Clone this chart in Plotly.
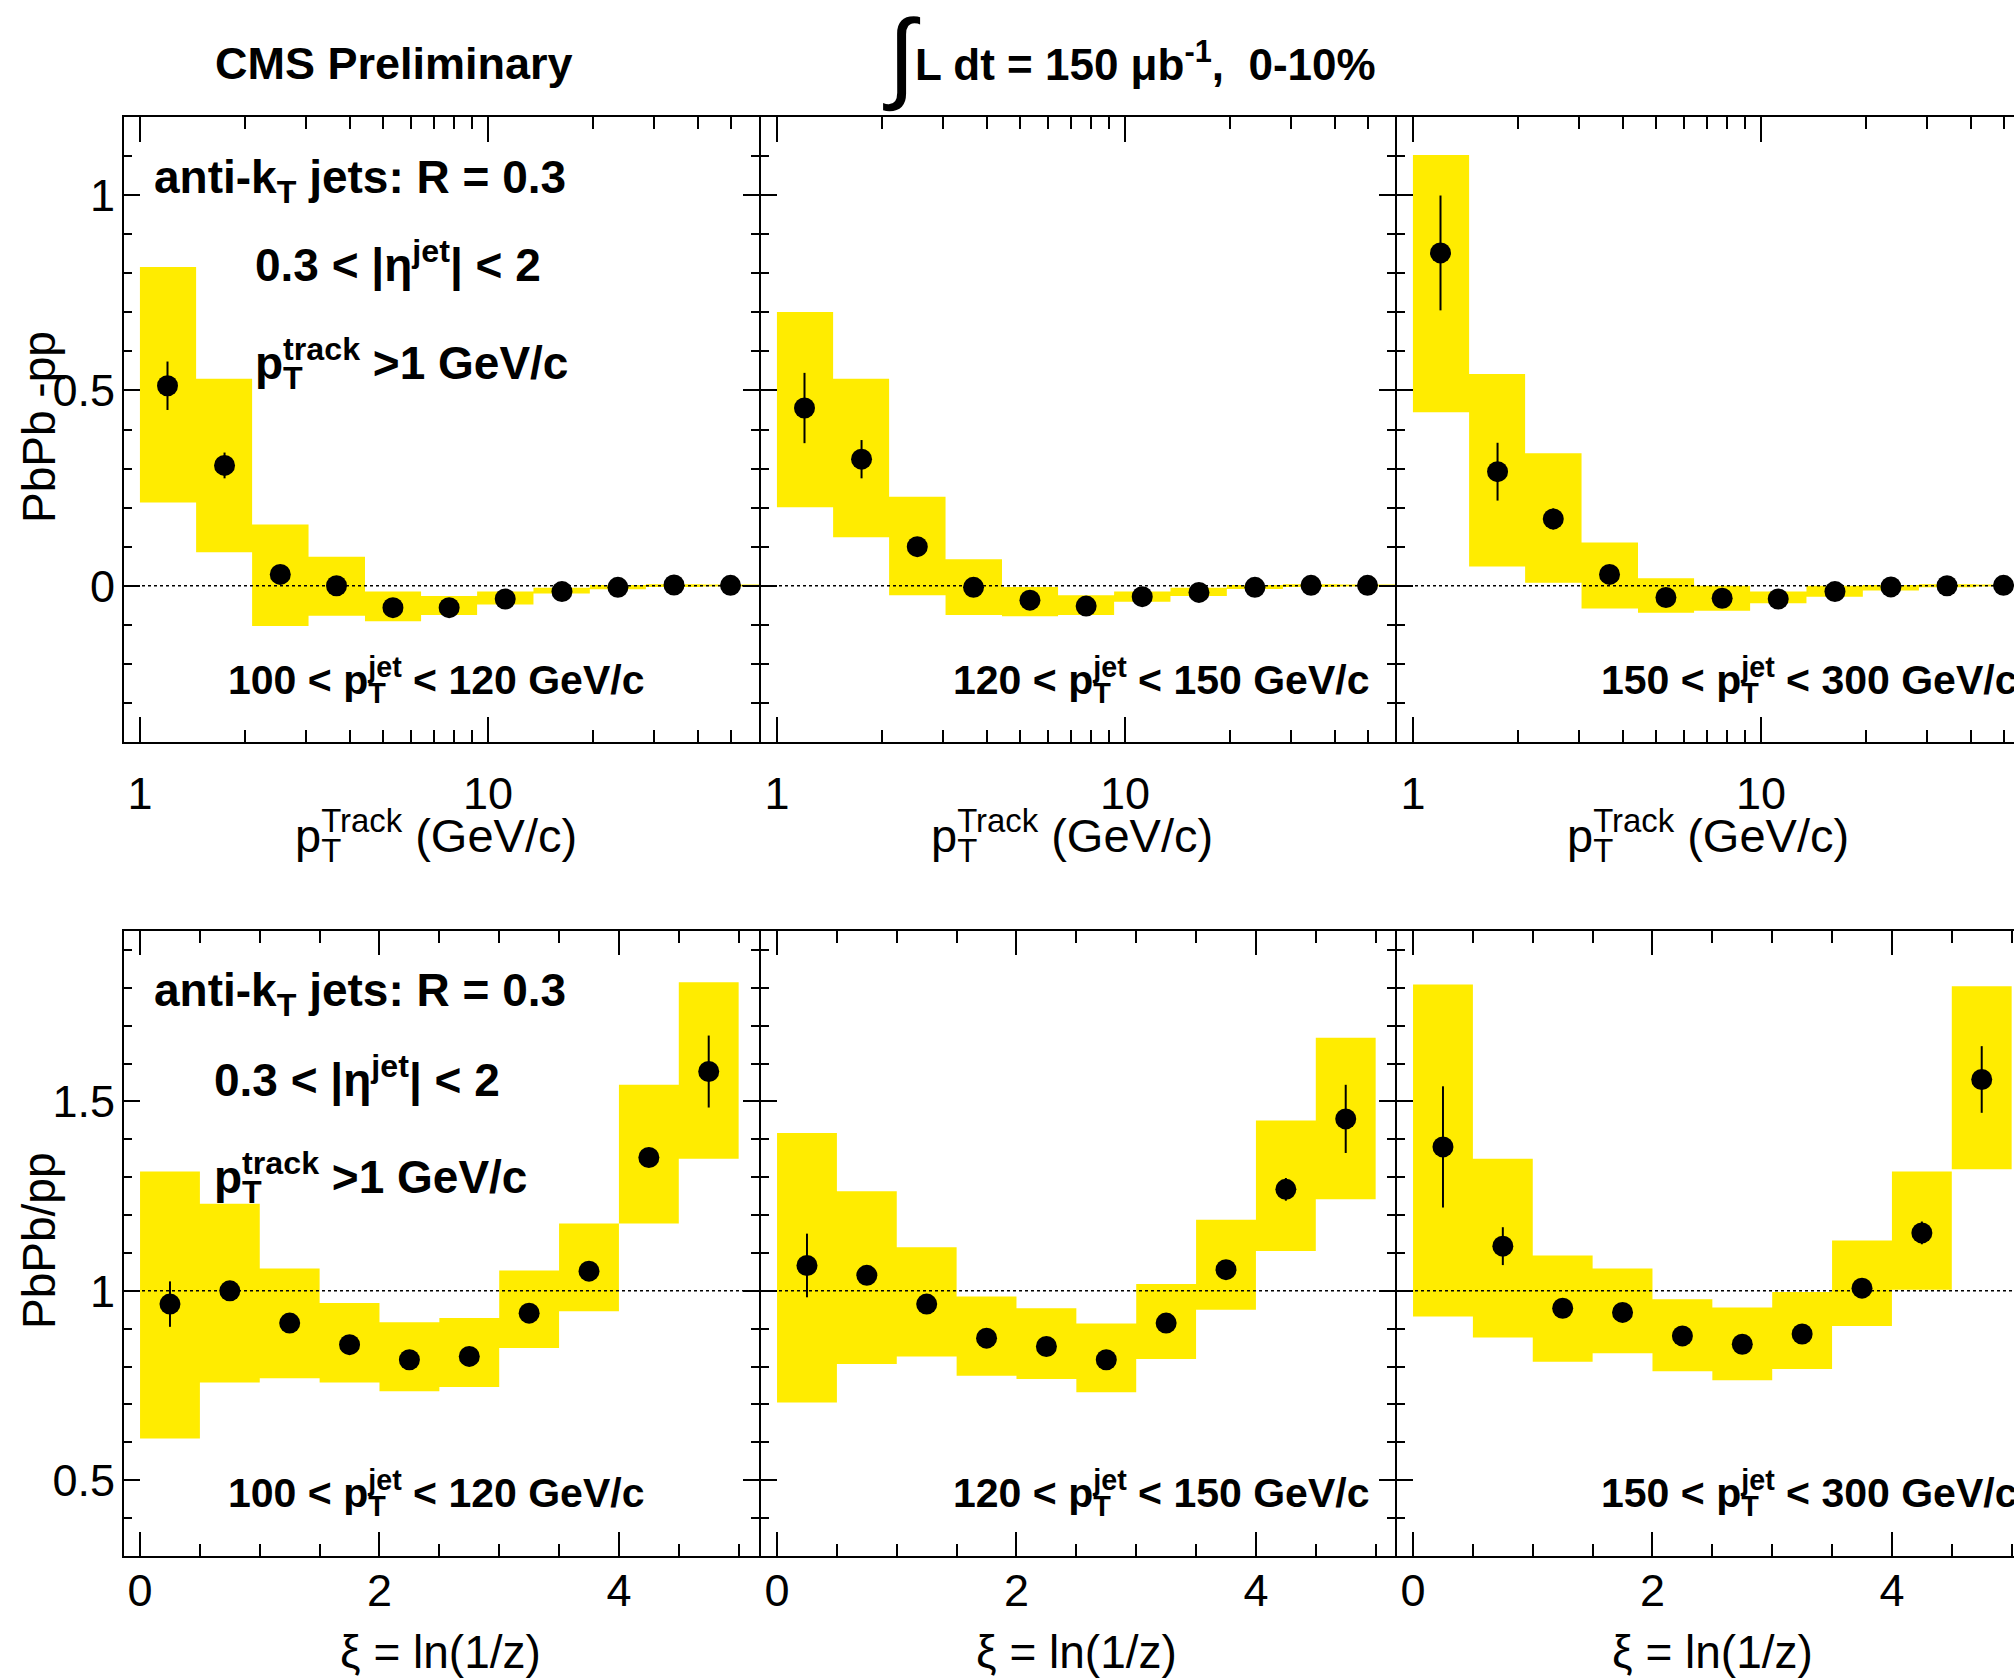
import math
import plotly.graph_objects as go

W, H = 2014, 1678
FONT = "Liberation Sans, Arial, Helvetica, sans-serif"
YELLOW = "#FFEC00"

# ---------------- data ----------------
# top row: PbPb - pp vs track pT (log bins)
pt_edges = [1.0, 1.45, 2.1, 3.05, 4.43, 6.42, 9.3, 13.5, 19.6, 28.4, 41.3, 60.0]
pt_centers = [1.2, 1.75, 2.53, 3.67, 5.33, 7.73, 11.2, 16.3, 23.6, 34.2, 49.7]

diff_100_val = [0.512, 0.308, 0.029, 0.0, -0.056, -0.056, -0.034, -0.015, -0.004, 0.002, 0.001]
diff_100_stat = [0.062, 0.033, 0.02, 0.015, 0.012, 0.012, 0.01, 0.008, 0.006, 0.005, 0.005]
diff_100_syslo = [0.213, 0.086, -0.103, -0.077, -0.091, -0.075, -0.048, -0.020, -0.009, -0.003, -0.002]
diff_100_syshi = [0.816, 0.530, 0.157, 0.074, -0.015, -0.026, -0.015, -0.005, 0.002, 0.004, 0.003]

diff_120_val = [0.455, 0.324, 0.100, -0.004, -0.037, -0.052, -0.028, -0.017, -0.004, 0.001, 0.001]
diff_120_stat = [0.09, 0.049, 0.02, 0.015, 0.012, 0.012, 0.01, 0.008, 0.006, 0.005, 0.005]
diff_120_syslo = [0.201, 0.124, -0.024, -0.075, -0.078, -0.075, -0.041, -0.026, -0.008, -0.003, -0.002]
diff_120_syshi = [0.701, 0.530, 0.228, 0.068, -0.003, -0.024, -0.015, -0.005, 0.002, 0.004, 0.003]

diff_150_val = [0.852, 0.292, 0.171, 0.029, -0.030, -0.032, -0.034, -0.015, -0.003, 0.0, 0.001]
diff_150_stat = [0.147, 0.074, 0.027, 0.015, 0.012, 0.012, 0.01, 0.008, 0.006, 0.005, 0.005]
diff_150_syslo = [0.444, 0.049, 0.008, -0.058, -0.069, -0.064, -0.045, -0.028, -0.012, -0.004, -0.002]
diff_150_syshi = [1.103, 0.542, 0.339, 0.111, 0.019, 0.0, -0.015, 0.0, 0.002, 0.004, 0.003]

# bottom row: PbPb / pp vs xi
xi_edges = [0.0, 0.5, 1.0, 1.5, 2.0, 2.5, 3.0, 3.5, 4.0, 4.5, 5.0]
xi_centers = [0.25, 0.75, 1.25, 1.75, 2.25, 2.75, 3.25, 3.75, 4.25, 4.75]

ratio_100_val = [0.965, 1.0, 0.915, 0.858, 0.818, 0.827, 0.941, 1.052, 1.352, 1.579]
ratio_100_stat = [0.06, 0.02, 0.02, 0.02, 0.02, 0.02, 0.02, 0.02, 0.025, 0.095]
ratio_100_syslo = [0.610, 0.758, 0.769, 0.758, 0.735, 0.746, 0.849, 0.946, 1.178, 1.349]
ratio_100_syshi = [1.315, 1.230, 1.059, 0.968, 0.917, 0.928, 1.054, 1.178, 1.544, 1.815]

ratio_120_val = [1.067, 1.041, 0.965, 0.875, 0.853, 0.818, 0.915, 1.056, 1.268, 1.454]
ratio_120_stat = [0.084, 0.025, 0.02, 0.02, 0.02, 0.02, 0.02, 0.02, 0.03, 0.09]
ratio_120_syslo = [0.705, 0.807, 0.827, 0.776, 0.767, 0.732, 0.820, 0.950, 1.105, 1.242]
ratio_120_syshi = [1.417, 1.263, 1.115, 0.985, 0.954, 0.914, 1.018, 1.188, 1.450, 1.668]

ratio_150_val = [1.380, 1.118, 0.954, 0.943, 0.881, 0.859, 0.886, 1.007, 1.153, 1.558]
ratio_150_stat = [0.16, 0.05, 0.02, 0.02, 0.02, 0.02, 0.02, 0.02, 0.03, 0.088]
ratio_150_syslo = [0.932, 0.877, 0.813, 0.835, 0.788, 0.764, 0.794, 0.907, 1.003, 1.321]
ratio_150_syshi = [1.809, 1.349, 1.093, 1.059, 0.978, 0.956, 0.997, 1.133, 1.315, 1.804]

jet_bin_lo = ["100", "120", "150"]
jet_bin_hi = ["120", "150", "300"]
pt_tick_vals = [1, 10]
pt_tick_text = ["1", "10"]
pt_minor_vals = [2, 3, 4, 5, 6, 7, 8, 9, 20, 30, 40, 50]
xi_tick_vals = [0, 2, 4]
xi_tick_text = ["0", "2", "4"]

# ---------------- helpers ----------------
def px(x):
    return x / W


def py(y):
    return 1 - y / H


def box_polys(edges, lo, hi):
    xs, ys = [], []
    for i in range(len(lo)):
        xs += [edges[i], edges[i + 1], edges[i + 1], edges[i], edges[i], None]
        ys += [lo[i], lo[i], hi[i], hi[i], lo[i], None]
    return xs, ys


def stacked(base, sub, sup, size):
    # ROOT-like stacked sub/superscript: pull the superscript back over the subscript
    w = 0.7 * size * 0.611 * len(sub)
    return (base + '<sub><span style="letter-spacing:-%.1fpx">' % w + sub +
            "</span></sub><sup>" + sup + "</sup>")


fig = go.Figure()

panels = [
    (pt_edges, pt_centers, diff_100_val, diff_100_stat, diff_100_syslo, diff_100_syshi),
    (pt_edges, pt_centers, diff_120_val, diff_120_stat, diff_120_syslo, diff_120_syshi),
    (pt_edges, pt_centers, diff_150_val, diff_150_stat, diff_150_syslo, diff_150_syshi),
    (xi_edges, xi_centers, ratio_100_val, ratio_100_stat, ratio_100_syslo, ratio_100_syshi),
    (xi_edges, xi_centers, ratio_120_val, ratio_120_stat, ratio_120_syslo, ratio_120_syshi),
    (xi_edges, xi_centers, ratio_150_val, ratio_150_stat, ratio_150_syslo, ratio_150_syshi),
]

for i, (edges, centers, val, stat, lo, hi) in enumerate(panels):
    ax = "" if i == 0 else str(i + 1)
    bx, by = box_polys(edges, lo, hi)
    fig.add_trace(go.Scatter(
        x=bx, y=by, mode="lines", fill="toself", fillcolor=YELLOW,
        line=dict(width=0, color=YELLOW), hoverinfo="skip", showlegend=False,
        xaxis="x" + ax, yaxis="y" + ax,
    ))
    fig.add_trace(go.Scatter(
        x=centers, y=val, mode="markers",
        marker=dict(symbol="circle", size=21, color="black"),
        error_y=dict(type="data", array=stat, visible=True, color="black", thickness=2, width=0),
        showlegend=False, xaxis="x" + ax, yaxis="y" + ax,
    ))

# ---------------- geometry ----------------
XL = [124, 761, 1397]
XR = [759, 1395, 2014]
TOP = (117, 742)
BOT = (931, 1556)

lo_log, hi_log = math.log10(0.9), math.log10(60)
ppd = (XR[0] - XL[0]) / (hi_log - lo_log)
xi_lo, xi_hi = -0.134, 5.17
ppu = (XR[0] - XL[0]) / (xi_hi - xi_lo)

tickfont = dict(family=FONT, size=45, color="black")

layout_axes = {}
for i in range(6):
    row = 0 if i < 3 else 1
    col = i % 3
    name = "" if i == 0 else str(i + 1)
    ydom = TOP if row == 0 else BOT
    wpx = XR[col] - XL[col]
    xd = [px(XL[col]), px(XR[col])]
    yd = [py(ydom[1]), py(ydom[0])]
    if row == 0:
        xr = [lo_log, lo_log + wpx / ppd]
        xa = dict(type="log", range=xr, tickmode="array", tickvals=pt_tick_vals, ticktext=pt_tick_text,
                  ticklen=25, minor=dict(tickmode="array", tickvals=pt_minor_vals, ticks="inside",
                                         ticklen=12, tickwidth=1.5, tickcolor="black", showgrid=False),
                  ticklabelstandoff=11)
        ya = dict(range=[-0.4, 1.2], tickmode="array", tickvals=[0, 0.5, 1], ticktext=["0", "0.5", "1"])
    else:
        xr = [xi_lo, xi_lo + wpx / ppu]
        xa = dict(type="linear", range=xr, tickmode="array", tickvals=xi_tick_vals, ticktext=xi_tick_text,
                  ticklen=24, minor=dict(dtick=0.5, tick0=0, ticks="inside", ticklen=12, tickwidth=1.5,
                                         tickcolor="black", showgrid=False),
                  ticklabelstandoff=-6)
        ya = dict(range=[0.3, 1.95], tickmode="array", tickvals=[0.5, 1, 1.5], ticktext=["0.5", "1", "1.5"])
    xa.update(domain=xd, anchor="y" + name, showline=True, linecolor="black", linewidth=2,
              mirror="allticks", ticks="inside", tickwidth=1.5, tickcolor="black",
              showgrid=False, zeroline=False, tickfont=tickfont, fixedrange=True)
    ya.update(domain=yd, anchor="x" + name, showline=True, linecolor="black", linewidth=2,
              mirror="allticks" if col < 2 else False, ticks="inside", ticklen=16, tickwidth=1.5,
              tickcolor="black", showgrid=False, zeroline=False, tickfont=tickfont,
              showticklabels=(col == 0), ticklabelstandoff=-2,
              minor=dict(dtick=0.1, tick0=0, ticks="inside", ticklen=8, tickwidth=1.5,
                         tickcolor="black", showgrid=False), fixedrange=True)
    layout_axes["xaxis" + name] = xa
    layout_axes["yaxis" + name] = ya

fig.update_layout(**layout_axes)

# reference lines (0 for difference, 1 for ratio)
shapes = []
for i in range(6):
    name = "" if i == 0 else str(i + 1)
    yv = 0 if i < 3 else 1
    shapes.append(dict(type="line", xref="x" + name + " domain", yref="y" + name,
                       x0=0, x1=1, y0=yv, y1=yv, layer="above",
                       line=dict(color="black", width=1.5, dash="dot")))
fig.update_layout(shapes=shapes)

# ---------------- text ----------------
ann = []


def add(text, x, y, size, bold=False, xanchor="left", yanchor="middle", angle=0):
    t = "<b>" + text + "</b>" if bold else text
    ann.append(dict(text=t, x=px(x), y=py(y), xref="paper", yref="paper", xanchor=xanchor,
                    yanchor=yanchor, showarrow=False, textangle=angle,
                    font=dict(family=FONT, size=size, color="black")))


add("CMS Preliminary", 213, 63, 45, bold=True)
add("\u222b", 902, 56, 100, xanchor="center")
add("L dt = 150 \u03bcb<sup>-1</sup>,\u00a0 0-10%", 913, 62, 44, bold=True)

# panel labels, both rows
for dy in (0, 813):
    add("anti-k<sub>T</sub> jets: R = 0.3", 152, 180 + dy, 46, bold=True)
add("0.3 < |\u03b7<sup>jet</sup>| < 2", 253, 262, 46, bold=True)
add(stacked("p", "T", "track", 46) + " >1 GeV/c", 253, 360, 46, bold=True)
add("0.3 < |\u03b7<sup>jet</sup>| < 2", 212, 1077, 46, bold=True)
add(stacked("p", "T", "track", 46) + " >1 GeV/c", 212, 1174, 46, bold=True)

for yy in (680, 1493):
    for k, (xx, anc) in enumerate([(226, "left"), (1371, "right"), (1599, "left")]):
        txt = jet_bin_lo[k] + " < " + stacked("p", "T", "jet", 41) + " < " + jet_bin_hi[k] + " GeV/c"
        add(txt, xx, yy, 41, bold=True, xanchor=anc)

# axis titles
for xr in (579, 1215, 1851):
    add(stacked("p", "T", "Track", 47) + " (GeV/c)", xr, 832, 47, xanchor="right")
for xr in (543, 1179, 1815):
    add("\u03be = ln(1/z)", xr, 1652, 46, xanchor="right")
add("PbPb -pp", 39, 427, 46, xanchor="center", angle=-90)
add("PbPb/pp", 39, 1241, 46, xanchor="center", angle=-90)

fig.update_layout(
    annotations=ann,
    width=W, height=H, autosize=False,
    margin=dict(l=0, r=0, t=0, b=0, pad=0),
    paper_bgcolor="white", plot_bgcolor="white",
    font=dict(family=FONT, color="black"),
    showlegend=False,
)

fig.write_html("out.html", config={"displayModeBar": False})
